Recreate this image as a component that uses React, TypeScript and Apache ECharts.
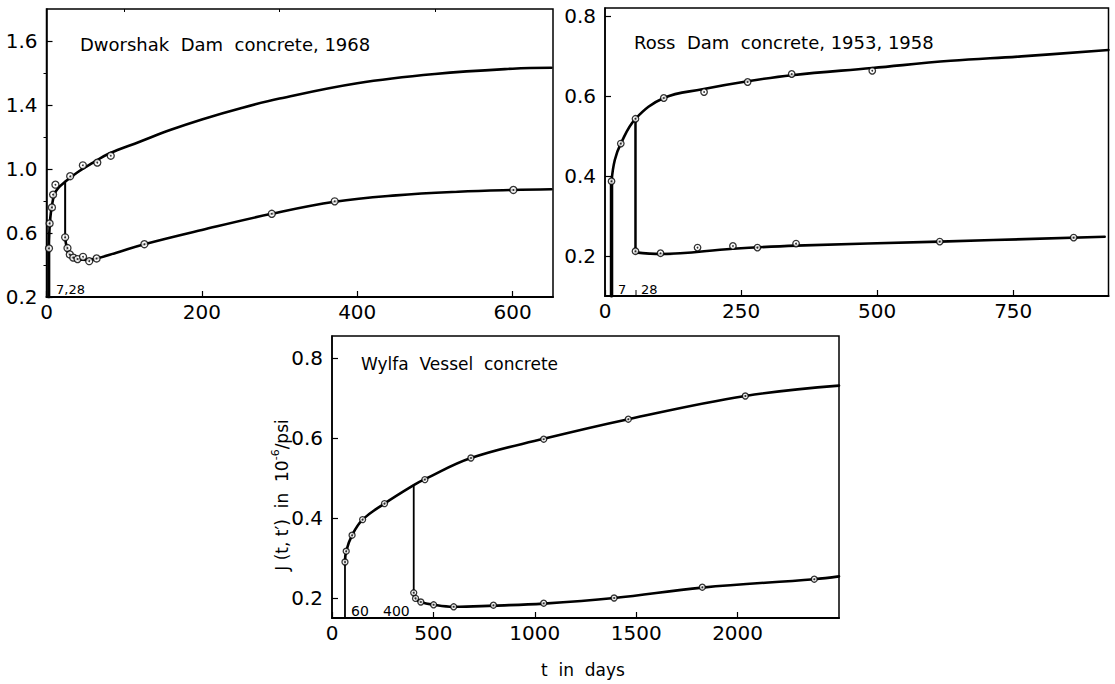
import React, { useEffect, useRef } from "react";
import * as echarts from "echarts";

// ---------- Dworshak Dam (top-left) ----------
const dwLoad1 = [[3, 0.2], [3, 0.5]];
const dwUpperCurve = [[3, 0.5], [3.6, 0.6], [5, 0.7], [7, 0.77], [10, 0.84], [15, 0.88], [24, 0.92], [40, 0.98], [60, 1.04], [80, 1.095], [120, 1.17], [160, 1.245], [200, 1.31], [250, 1.38], [300, 1.44], [400, 1.536], [500, 1.594], [600, 1.627], [650, 1.633]];
const dwUpperPts = [[3.2, 0.504], [4, 0.66], [7, 0.76], [8.5, 0.84], [11.5, 0.902], [30.5, 0.955], [46.8, 1.023], [65.4, 1.04], [82.7, 1.083]];
const dwLoad2 = [[24, 0.92], [24, 0.573]];
const dwLowerCurve = [[24, 0.573], [26, 0.51], [29, 0.47], [34, 0.445], [42, 0.435], [52, 0.432], [64, 0.44], [90, 0.477], [126, 0.53], [200, 0.619], [290, 0.72], [371, 0.795], [450, 0.835], [530, 0.858], [600, 0.869], [650, 0.873]];
const dwLowerPts = [[24, 0.573], [27, 0.506], [30, 0.466], [34.5, 0.446], [40, 0.437], [47, 0.451], [55, 0.424], [64.5, 0.441], [126, 0.53], [290, 0.72], [371, 0.798], [601, 0.869]];
const dwXTicks = [0, 200, 400, 600];
const dwXMinor = [100, 300, 500];
const dwYTicks = [0.2, 0.6, 1.0, 1.4, 1.8];
const dwYLabels = ["0.2", "0.6", "1.0", "1.4", "1.6"];
const dwYMinor = [0.4, 0.8, 1.2, 1.6];

// ---------- Ross Dam (top-right) ----------
const rsLoad1 = [[12, 0.1], [12, 0.387]];
const rsUpperCurve = [[12, 0.387], [18, 0.44], [29, 0.481], [56, 0.543], [108, 0.595], [179, 0.617], [262, 0.637], [343, 0.652], [491, 0.67], [635, 0.688], [765, 0.699], [925, 0.715]];
const rsUpperPts = [[12, 0.387], [29, 0.481], [56, 0.543], [108, 0.595], [182, 0.61], [262, 0.635], [343, 0.655], [491, 0.663]];
const rsLoad2 = [[56, 0.543], [56, 0.209]];
const rsLowerCurve = [[56, 0.209], [102, 0.205], [235, 0.218], [351, 0.226], [615, 0.236], [918, 0.248]];
const rsLowerPts = [[56, 0.212], [102, 0.207], [170, 0.221], [235, 0.225], [280, 0.221], [351, 0.231], [615, 0.236], [861, 0.246]];
const rsXTicks = [0, 250, 500, 750];
const rsYTicks = [0.2, 0.4, 0.6, 0.8];

// ---------- Wylfa Vessel (bottom) ----------
const wyLoad1 = [[64, 0.15], [64, 0.29]];
const wyUpperCurve = [[64, 0.29], [70, 0.317], [99, 0.357], [151, 0.396], [259, 0.436], [403, 0.482], [458, 0.497], [685, 0.55], [1044, 0.598], [1461, 0.647], [2038, 0.705], [2500, 0.731]];
const wyUpperPts = [[64, 0.29], [70, 0.317], [99, 0.357], [151, 0.396], [259, 0.436], [458, 0.496], [685, 0.55], [1044, 0.597], [1461, 0.647], [2038, 0.705]];
const wyLoad2 = [[403, 0.482], [403, 0.213]];
const wyLowerCurve = [[403, 0.213], [412, 0.199], [438, 0.19], [501, 0.183], [600, 0.178], [798, 0.181], [1044, 0.186], [1391, 0.2], [1826, 0.226], [2378, 0.247], [2500, 0.254]];
const wyLowerPts = [[403, 0.213], [412, 0.199], [438, 0.19], [501, 0.183], [600, 0.178], [796, 0.182], [1044, 0.187], [1391, 0.2], [1826, 0.227], [2378, 0.247]];
const wyXTicks = [0, 500, 1000, 1500, 2000];
const wyYTicks = [0.2, 0.4, 0.6, 0.8];

const FONT = "DejaVu Sans";

function lineS(idx: number, data: number[][], width: number, smooth: number | boolean) {
  return {
    type: "line",
    xAxisIndex: idx,
    yAxisIndex: idx,
    data,
    symbol: "none",
    showSymbol: false,
    smooth,
    lineStyle: { color: "#000", width, cap: "round", join: "round" },
    z: 2,
    silent: true,
  };
}

function ptsS(idx: number, data: number[][], size: number) {
  return [
    {
      type: "scatter",
      xAxisIndex: idx,
      yAxisIndex: idx,
      data,
      symbol: "circle",
      symbolSize: size,
      itemStyle: { color: "#fff", borderColor: "#000", borderWidth: 1.3 },
      z: 3,
      silent: true,
    },
    {
      type: "scatter",
      xAxisIndex: idx,
      yAxisIndex: idx,
      data,
      symbol: "circle",
      symbolSize: 1.8,
      itemStyle: { color: "#000" },
      z: 4,
      silent: true,
    },
  ];
}

function fmt1(v: number) {
  return v.toFixed(1);
}

function xAx(grid: number, min: number, max: number, ticks: number[]) {
  return {
    type: "value",
    gridIndex: grid,
    min,
    max,
    axisLine: { show: true, lineStyle: { color: "#000", width: 2 } },
    axisTick: { show: true, inside: true, length: 6, customValues: ticks, lineStyle: { color: "#000", width: 1.2 } },
    axisLabel: { show: true, customValues: ticks, margin: 5, color: "#000", fontSize: 20, fontFamily: FONT, formatter: (v: number) => String(Math.round(v)) },
    splitLine: { show: false },
  };
}

function yAx(grid: number, min: number, max: number, ticks: number[], labels?: string[]) {
  return {
    type: "value",
    gridIndex: grid,
    min,
    max,
    axisLine: { show: true, lineStyle: { color: "#000", width: 1.5 } },
    axisTick: { show: true, inside: true, length: 6, customValues: ticks, lineStyle: { color: "#000", width: 1.2 } },
    axisLabel: {
      show: true,
      customValues: ticks,
      margin: 9,
      color: "#000",
      fontSize: 20,
      fontFamily: FONT,
      formatter: (v: number) => {
        if (labels) {
          const i = ticks.findIndex((t) => Math.abs(t - v) < 1e-6);
          if (i >= 0) return labels[i];
        }
        return fmt1(v);
      },
    },
    splitLine: { show: false },
  };
}

function minorAx(grid: number, min: number, max: number, ticks: number[]) {
  return {
    type: "value",
    gridIndex: grid,
    min,
    max,
    axisLine: { show: false },
    axisTick: { show: true, inside: true, length: 3, customValues: ticks, lineStyle: { color: "#000", width: 1 } },
    axisLabel: { show: false },
    splitLine: { show: false },
  };
}

export default function App() {
  const ref = useRef<HTMLDivElement>(null);
  useEffect(() => {
    if (!ref.current) return;
    const chart = echarts.init(ref.current, undefined, { renderer: "svg" });
    const gridStyle = { show: true, borderColor: "#000", borderWidth: 1.5, backgroundColor: "#fff", containLabel: false };
    const option: any = {
      animation: false,
      backgroundColor: "#fff",
      textStyle: { fontFamily: FONT },
      grid: [
        { ...gridStyle, left: 46.5, top: 9, width: 506.5, height: 288 },
        { ...gridStyle, left: 605, top: 8, width: 503.5, height: 288 },
        { ...gridStyle, left: 332, top: 336, width: 507, height: 282 },
      ],
      xAxis: [
        xAx(0, 0, 652, dwXTicks),
        xAx(1, 0, 925, rsXTicks),
        xAx(2, 0, 2500, wyXTicks),
        minorAx(0, 0, 652, dwXMinor),
      ],
      yAxis: [
        yAx(0, 0.2, 2.0, dwYTicks, dwYLabels),
        yAx(1, 0.1, 0.82, rsYTicks),
        yAx(2, 0.15, 0.855, wyYTicks),
        minorAx(0, 0.2, 2.0, dwYMinor),
      ],
      series: [
        lineS(0, dwLoad1, 3, false),
        lineS(0, dwUpperCurve, 2.6, 0.4),
        lineS(0, dwLoad2, 2, false),
        lineS(0, dwLowerCurve, 2.6, 0.4),
        ...ptsS(0, dwUpperPts, 7),
        ...ptsS(0, dwLowerPts, 7),

        lineS(1, rsLoad1, 3.5, false),
        lineS(1, rsUpperCurve, 2.6, 0.4),
        lineS(1, rsLoad2, 2.5, false),
        lineS(1, rsLowerCurve, 2.6, 0.4),
        ...ptsS(1, rsUpperPts, 6.5),
        ...ptsS(1, rsLowerPts, 6.5),

        lineS(2, wyLoad1, 1.8, false),
        lineS(2, wyUpperCurve, 2.6, 0.4),
        lineS(2, wyLoad2, 1.8, false),
        lineS(2, wyLowerCurve, 2.6, 0.4),
        ...ptsS(2, wyUpperPts, 6),
        ...ptsS(2, wyLowerPts, 6),
      ],
      graphic: [
        { type: "text", left: 80, top: 35, style: { text: "Dworshak  Dam  concrete, 1968", fontSize: 18, fontFamily: FONT, fill: "#000" } },
        { type: "text", left: 634, top: 33, style: { text: "Ross  Dam  concrete, 1953, 1958", fontSize: 18, fontFamily: FONT, fill: "#000" } },
        { type: "text", left: 361, top: 355, style: { text: "Wylfa  Vessel  concrete", fontSize: 17, fontFamily: FONT, fill: "#000" } },
        { type: "text", left: 56, top: 283, style: { text: "7,28", fontSize: 13, fontFamily: FONT, fill: "#000" } },
        { type: "text", left: 618, top: 283, style: { text: "7", fontSize: 13, fontFamily: FONT, fill: "#000" } },
        { type: "text", left: 641, top: 283, style: { text: "28", fontSize: 13, fontFamily: FONT, fill: "#000" } },
        { type: "line", shape: { x1: 636, y1: 290, x2: 636, y2: 296 }, style: { stroke: "#000", lineWidth: 1 } },
        { type: "text", left: 351, top: 604, style: { text: "60", fontSize: 14, fontFamily: FONT, fill: "#000" } },
        { type: "text", left: 383, top: 604, style: { text: "400", fontSize: 14, fontFamily: FONT, fill: "#000" } },
        {
          type: "text",
          x: 282,
          y: 495,
          rotation: Math.PI / 2,
          style: {
            text: "{m|J (t, t′)  in  10}{sup|-6}{m|/psi}",
            fontFamily: FONT,
            fill: "#000",
            align: "center",
            verticalAlign: "middle",
            rich: {
              m: { fontSize: 17, fontFamily: FONT, lineHeight: 24, verticalAlign: "middle", fill: "#000" },
              sup: { fontSize: 11, fontFamily: FONT, lineHeight: 24, verticalAlign: "top", fill: "#000" },
            },
          },
        },
        { type: "text", x: 583, y: 670, style: { text: "t  in  days", fontSize: 17, fontFamily: FONT, fill: "#000", align: "center", verticalAlign: "middle" } },
      ],
    };
    chart.setOption(option);
    return () => chart.dispose();
  }, []);
  return <div ref={ref} style={{ position: "fixed", left: 0, top: 0, width: 1115, height: 684, background: "#fff" }} />;
}
